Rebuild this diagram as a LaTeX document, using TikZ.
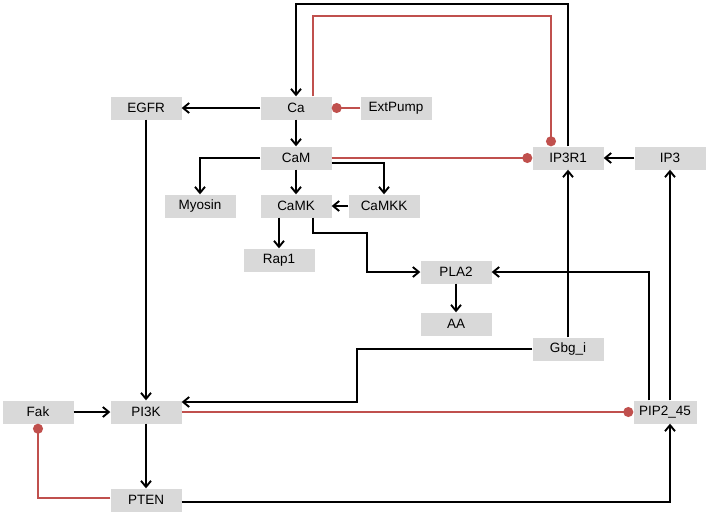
\documentclass[tikz,border=0pt]{standalone}
\usepackage{fontspec}
\setmainfont{Liberation Sans}
\usetikzlibrary{arrows.meta,calc}
\definecolor{boxgray}{RGB}{217,217,217}
\definecolor{darkred}{RGB}{192,80,77}

\begin{document}
\begin{tikzpicture}[x=1pt,y=-1pt,
    species/.style={fill=boxgray, minimum width=71pt, minimum height=23pt,
      inner sep=0pt, font=\fontsize{13.5}{16}\selectfont},
    act/.style={line width=1.9pt, -{Straight Barb[length=6pt,width=10pt]}},
    inh/.style={line width=1.4pt, darkred, -{Circle[length=10pt]}}]
    \useasboundingbox (0,0) rectangle (708,515);
    % Species
    \node[species] (Ca) at (296,108) {Ca};
    \node[species] (ExtPump) at (396,108) {ExtPump};
    \node[species] (EGFR) at (146,108) {EGFR};
    \node[species] (CaM) at (296,158) {CaM};
    \node[species] (Myosin) at (200,206) {Myosin};
    \node[species] (CaMK) at (296,206) {CaMK};
    \node[species] (CaMKK) at (384,206) {CaMKK};
    \node[species] (Rap1) at (279,260) {Rap1};
    \node[species] (PLA2) at (456,272) {PLA2};
    \node[species] (AA) at (456,324) {AA};
    \node[species] (IP3R1) at (568,158) {IP3R1};
    \node[species] (IP3) at (670,158) {IP3};
    \node[species] (Gbgi) at (568,349) {Gbg\_i};
    \node[species, minimum width=63pt] (PIP2) at (665,412) {PIP2\_45};
    \node[species] (Fak) at (38,412) {Fak};
    \node[species] (PI3K) at (146,412) {PI3K};
    \node[species] (PTEN) at (146,500) {PTEN};
    % Bend points
    \coordinate (topA) at (0,4);
    \coordinate (topB) at (0,16);
    \coordinate (bend) at (367,233);
    \coordinate (gb) at (357,0);
    \coordinate (pin) at ([yshift=10pt]PI3K.east);
    % Calcium loop
    \draw[act] (IP3R1.north) -- (IP3R1.north |- topA) -| (Ca.north);
    \draw[inh] ([xshift=17pt]Ca.north) -- ([xshift=17pt]Ca.north |- topB)
      -| ([xshift=-17pt]IP3R1.north);
    \draw[inh] (ExtPump.west) -- (Ca.east);
    \draw[act] (Ca.west) -- (EGFR.east);
    \draw[act] (Ca.south) -- (CaM.north);
    % Calmodulin branch
    \draw[inh] (CaM.east) -- (IP3R1.west);
    \draw[act] ([yshift=-5pt]CaM.east) -| (CaMKK.north);
    \draw[act] (CaM.west) -| (Myosin.north);
    \draw[act] (CaM.south) -- (CaMK.north);
    \draw[act] (CaMKK.west) -- (CaMK.east);
    \draw[act] (Rap1.north |- CaMK.south) -- (Rap1.north);
    \draw[act] ([xshift=17pt]CaMK.south) |- (bend) |- (PLA2.west);
    \draw[act] (PLA2.south) -- (AA.north);
    % Lipid side
    \draw[act] ([xshift=-16pt]PIP2.north) |- (PLA2.east);
    \draw[act] (IP3.south |- PIP2.north) -- (IP3.south);
    \draw[act] (IP3.west) -- (IP3R1.east);
    \draw[act] (Gbgi.north) -- (IP3R1.south);
    \draw[act] (Gbgi.west) -| (pin -| gb) -- (pin);
    \draw[inh] (PI3K.east) -- (PIP2.west);
    % PI3K module
    \draw[act] (EGFR.south) -- (PI3K.north);
    \draw[act] (Fak.east) -- (PI3K.west);
    \draw[act] (PI3K.south) -- (PTEN.north);
    \draw[inh] ([yshift=2pt]PTEN.west) -| (Fak.south);
    \draw[act] ([yshift=-2pt]PTEN.east) -| (PIP2.south -| IP3.south);
\end{tikzpicture}
\end{document}
